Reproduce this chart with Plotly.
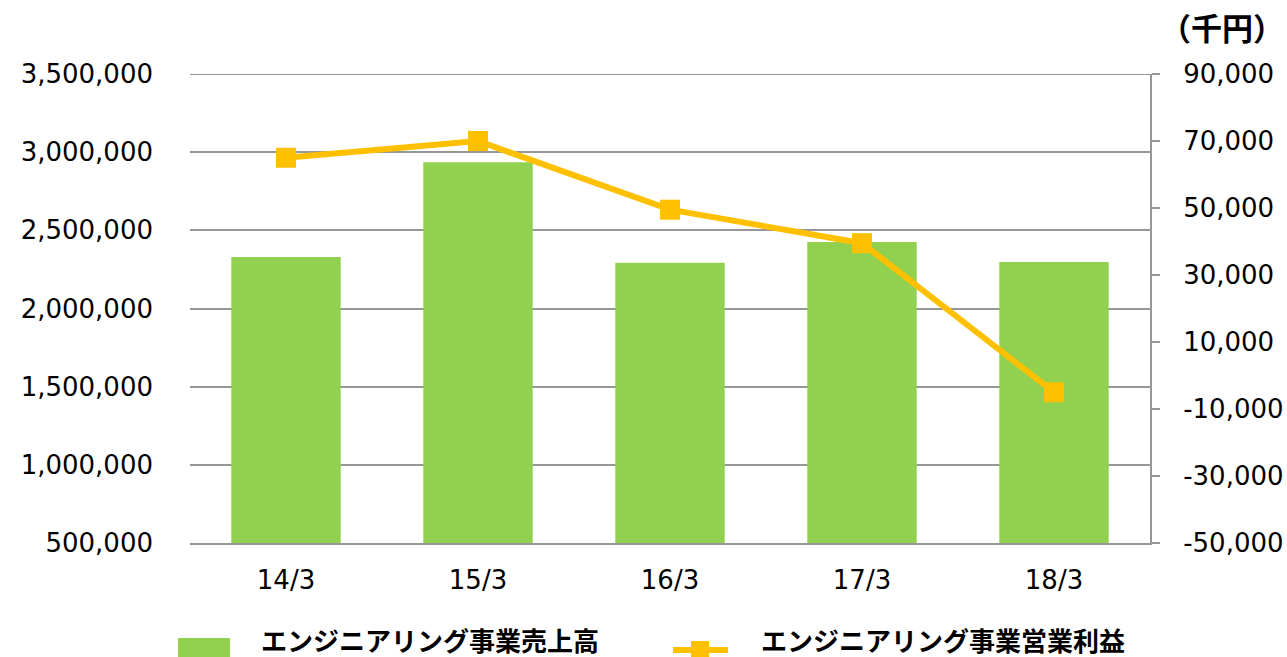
import plotly.graph_objects as go

categories = ["14/3", "15/3", "16/3", "17/3", "18/3"]
sales = [2330000, 2935000, 2292000, 2425000, 2298000]
profit = [65000, 70000, 49500, 39500, -5000]
left_ticks = [500000, 1000000, 1500000, 2000000, 2500000, 3000000, 3500000]
right_ticks = [-50000, -30000, -10000, 10000, 30000, 50000, 70000, 90000]
legend_names = ["エンジニアリング事業売上高", "エンジニアリング事業営業利益"]

FONT = "Verdana, DejaVu Sans, sans-serif"
JP = "Noto Sans CJK JP"
GREEN = "#92D050"
GOLD = "#FFC000"
GRID = "#979797"

L, R, T, B = 190, 137, 74, 114
W, H = 1287, 657
PW, PH = W - L - R, H - T - B


def px(x):
    return (x - L) / PW


def py(y):
    return (H - B - y) / PH


fig = go.Figure()
fig.add_trace(go.Bar(
    x=categories, y=sales, name=legend_names[0],
    marker=dict(color=GREEN, line=dict(width=0)), width=0.57,
    yaxis="y",
))
fig.add_trace(go.Scatter(
    x=categories, y=profit, name=legend_names[1],
    mode="lines+markers",
    line=dict(color=GOLD, width=6),
    marker=dict(symbol="square", size=20, color=GOLD),
    yaxis="y2",
))

shapes = [
    # top gridline (at range edge)
    dict(type="line", xref="paper", yref="y", x0=0, x1=1, y0=left_ticks[-1], y1=left_ticks[-1],
         line=dict(color=GRID, width=2), layer="below"),
    # legend glyphs
    dict(type="rect", xref="paper", yref="paper", x0=px(178), x1=px(230), y0=py(660), y1=py(638),
         fillcolor=GREEN, line=dict(width=0), layer="above"),
    dict(type="line", xref="paper", yref="paper", x0=px(673), x1=px(728), y0=py(650), y1=py(650),
         line=dict(color=GOLD, width=6), layer="above"),
    dict(type="rect", xref="paper", yref="paper", x0=px(691), x1=px(709), y0=py(659), y1=py(641),
         fillcolor=GOLD, line=dict(width=0), layer="above"),
]

annotations = [
    dict(text="<b>（千円）</b>", x=px(1286), y=py(26), xref="paper", yref="paper",
         showarrow=False, font=dict(family=JP, size=31, color="#000000"),
         xanchor="right", yanchor="middle"),
    dict(text="<b>" + legend_names[0] + "</b>", x=px(259), y=py(639), xref="paper", yref="paper",
         showarrow=False, font=dict(family=JP, size=26, color="#000000"),
         xanchor="left", yanchor="middle"),
    dict(text="<b>" + legend_names[1] + "</b>", x=px(759), y=py(639), xref="paper", yref="paper",
         showarrow=False, font=dict(family=JP, size=26, color="#000000"),
         xanchor="left", yanchor="middle"),
]

fig.update_layout(
    width=W, height=H,
    margin=dict(l=L, r=R, t=T, b=B, autoexpand=False),
    paper_bgcolor="white", plot_bgcolor="white",
    font=dict(family=FONT, size=26, color="#000000"),
    showlegend=False,
    xaxis=dict(showgrid=False, showline=True, linecolor=GRID, linewidth=2, ticks="",
               ticklabelstandoff=13, tickfont=dict(size=26, family=FONT)),
    yaxis=dict(range=[500000, 3500000], tickvals=left_ticks,
               ticktext=[f"{v:,}" for v in left_ticks],
               showgrid=True, gridcolor=GRID, gridwidth=2,
               showline=False, zeroline=False, ticks="", ticklabelstandoff=36,
               tickfont=dict(size=26, family=FONT)),
    yaxis2=dict(range=[-50000, 90000], tickvals=right_ticks,
                ticktext=[f"{v:,}" for v in right_ticks],
                overlaying="y", side="right", showgrid=False, zeroline=False,
                showline=True, linecolor=GRID, linewidth=2,
                ticks="outside", ticklen=8, tickcolor=GRID, tickwidth=2,
                ticklabelstandoff=18,
                tickfont=dict(size=26, family=FONT)),
    shapes=shapes,
    annotations=annotations,
)

fig.write_html(
    "out.html",
    config={"displayModeBar": False},
    post_script="document.body.style.margin='0';document.body.style.overflow='hidden';",
)
